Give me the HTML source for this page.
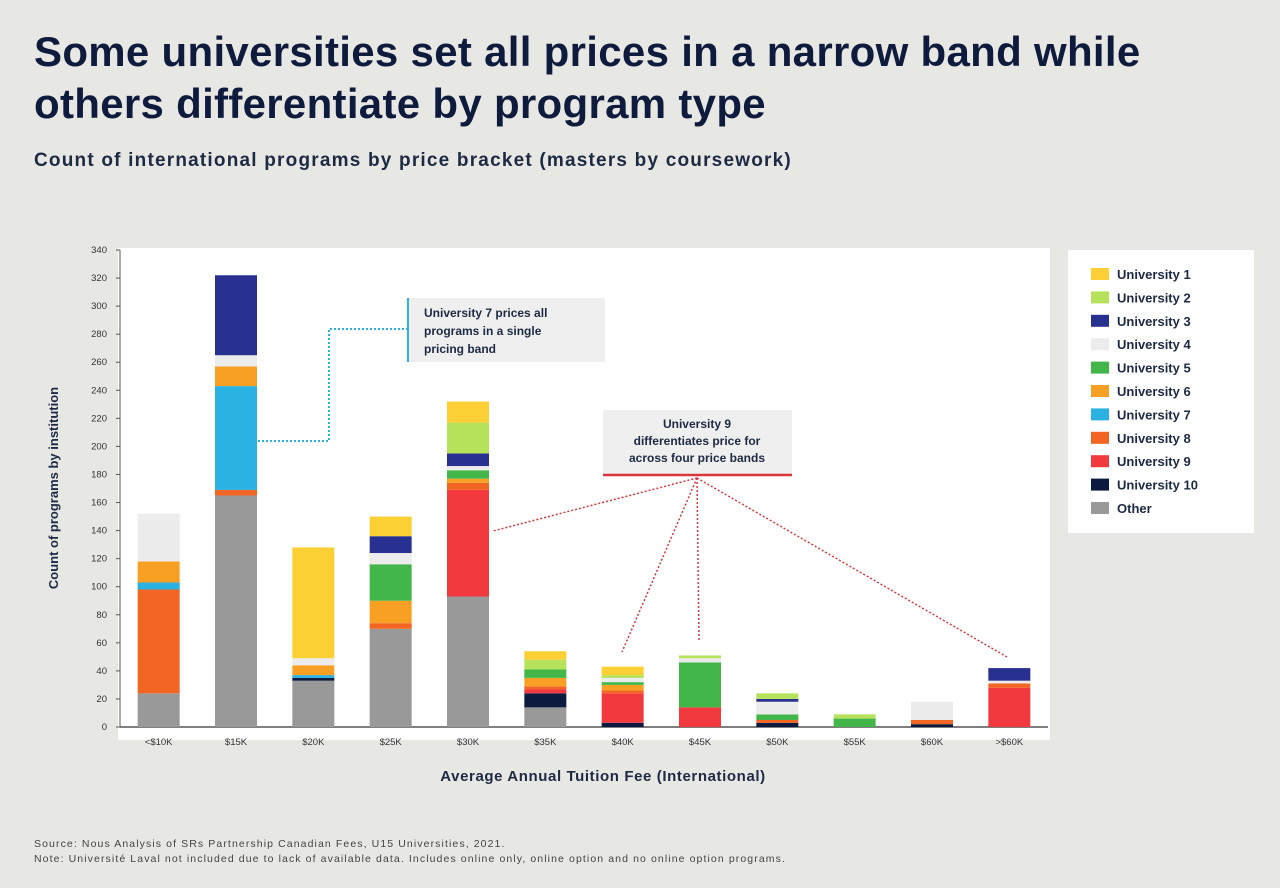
<!DOCTYPE html>
<html><head><meta charset="utf-8">
<style>
body{margin:0;width:1280px;height:888px;background:#e7e7e4;font-family:"Liberation Sans",sans-serif;color:#14213d;overflow:hidden;position:relative}
.t{position:absolute;left:34px;top:26px;font-size:42px;font-weight:bold;line-height:52px;color:#0f1b3d;letter-spacing:0.3px}
.s{position:absolute;left:34px;top:150px;font-size:19px;font-weight:bold;color:#1d2a44;letter-spacing:1.2px}
.f{position:absolute;left:34px;font-size:10.5px;color:#444;letter-spacing:1.1px}
</style></head><body>
<div class="t">Some universities set all prices in a narrow band while<br>others differentiate by program type</div>
<div class="s">Count of international programs by price bracket (masters by coursework)</div>
<svg id="c" width="1280" height="888" style="position:absolute;left:0;top:0"></svg>
<div class="f" style="top:838px">Source: Nous Analysis of SRs Partnership Canadian Fees, U15 Universities, 2021.</div>
<div class="f" style="top:853px">Note: Université Laval not included due to lack of available data. Includes online only, online option and no online option programs.</div>
<script>
const categories=["<$10K","$15K","$20K","$25K","$30K","$35K","$40K","$45K","$50K","$55K","$60K",">$60K"];
const seriesNames=["Other","University 10","University 9","University 8","University 7","University 6","University 5","University 4","University 3","University 2","University 1"];
const other=[24,165,33,70,93,14,0,0,0,0,0,0];
const u10=[0,0,2,0,0,10,3,0,3,0,2,0];
const u9=[0,0,0,0,76,3,21,14,0,0,0,28];
const u8=[74,4,0,4,5,2,2,0,2,0,3,3];
const u7=[5,74,2,0,0,0,0,0,0,0,0,0];
const u6=[15,14,7,16,3,6,4,0,0,0,0,0];
const u5=[0,0,0,26,6,6,2,32,4,6,0,0];
const u4=[34,8,5,8,3,0,3,3,9,0,13,2];
const u3=[0,57,0,12,9,0,0,0,2,0,0,9];
const u2=[0,0,0,0,22,7,2,2,4,3,0,0];
const u1=[0,0,79,14,15,6,6,0,0,0,0,0];
const yTicks=[0,20,40,60,80,100,120,140,160,180,200,220,240,260,280,300,320,340];
const series=[other,u10,u9,u8,u7,u6,u5,u4,u3,u2,u1];
const colors=["#999999","#0b1a3e","#f23a3e","#f26522","#2bb2e3","#f7a024","#43b649","#ececec","#28318f","#b5e25a","#fcd035"];
const NS="http://www.w3.org/2000/svg",svg=document.getElementById('c');
function el(t,a,p){const e=document.createElementNS(NS,t);for(const k in a)e.setAttribute(k,a[k]);(p||svg).appendChild(e);return e;}
const X0=120,X1=1048,Y0=727,Ymax=340,Ytop=250;
const y=v=>Y0-(v/Ymax)*(Y0-Ytop);
const step=(X1-X0)/categories.length;
const x=i=>X0+step*(i+0.5);
const bg=el('rect',{x:118,y:248,width:932,height:492,fill:'#fff'});

yTicks.forEach(v=>{
 const t=el('text',{x:107,y:y(v)+3,'font-size':9.5,'text-anchor':'end',fill:'#333'});t.textContent=v;
 
 el('line',{x1:116,x2:120,y1:y(v),y2:y(v),stroke:'#555','stroke-width':1});
});
el('line',{x1:120,x2:120,y1:250,y2:727,stroke:'#555','stroke-width':1});
el('line',{x1:120,x2:1048,y1:727,y2:727,stroke:'#555','stroke-width':1.5});
categories.forEach((c,i)=>{
 let acc=0;
 series.forEach((s,j)=>{
  const v=s[i];if(!v)return;
  const r=el('rect',{x:x(i)-21,y:y(acc+v),width:42,height:y(acc)-y(acc+v),fill:colors[j]});
  
  
  acc+=v;
 });
 const t=el('text',{x:x(i),y:745,'font-size':9.5,'text-anchor':'middle',fill:'#333'});t.textContent=c;
 
});
const xt=el('text',{x:603,y:781,'font-size':15,'font-weight':'bold','text-anchor':'middle',fill:'#1d2a44','letter-spacing':0.6});xt.textContent="Average Annual Tuition Fee (International)";

const yt=el('text',{x:0,y:0,'font-size':13,'font-weight':'bold','text-anchor':'middle',fill:'#1d2a44',transform:'translate(58,488) rotate(-90)'});yt.textContent="Count of programs by institution";

const lg=el('rect',{x:1068,y:250,width:186,height:283,fill:'#fff'});

for(let k=0;k<11;k++){
 const j=10-k;const yy=274+k*23.4;
 el('rect',{x:1091,y:yy-6,width:18,height:12,fill:colors[j]});
 const t=el('text',{x:1117,y:yy+5,'font-size':13,'font-weight':'bold',fill:'#1d2a44'});t.textContent=seriesNames[j];
 
}
el('rect',{x:407,y:298,width:198,height:64,fill:'#efefef'});
el('line',{x1:408,x2:408,y1:298,y2:362,stroke:'#2bb2e3','stroke-width':2});
el('polyline',{points:'258,441 329,441 329,329 407,329',fill:'none',stroke:'#2bb2e3','stroke-width':2,'stroke-dasharray':'2,2'});
["University 7 prices all","programs in a single","pricing band"].forEach((s,i)=>{const t=el('text',{x:424,y:317+i*18,'font-size':12,'font-weight':'bold',fill:'#1d2a44'});t.textContent=s;
 });
el('rect',{x:603,y:410,width:189,height:65,fill:'#efefef'});
el('line',{x1:603,x2:792,y1:475,y2:475,stroke:'#d9363e','stroke-width':2.5});
["University 9","differentiates price for","across four price bands"].forEach((s,i)=>{const t=el('text',{x:697,y:428+i*17,'font-size':12,'font-weight':'bold','text-anchor':'middle',fill:'#1d2a44'});t.textContent=s;
 });
[[493,531],[622,652],[699,640],[1007,657]].forEach(p=>el('line',{x1:697,y1:478,x2:p[0],y2:p[1],stroke:'#d9363e','stroke-width':1.5,'stroke-dasharray':'2,2'}));
</script>
</body></html>
